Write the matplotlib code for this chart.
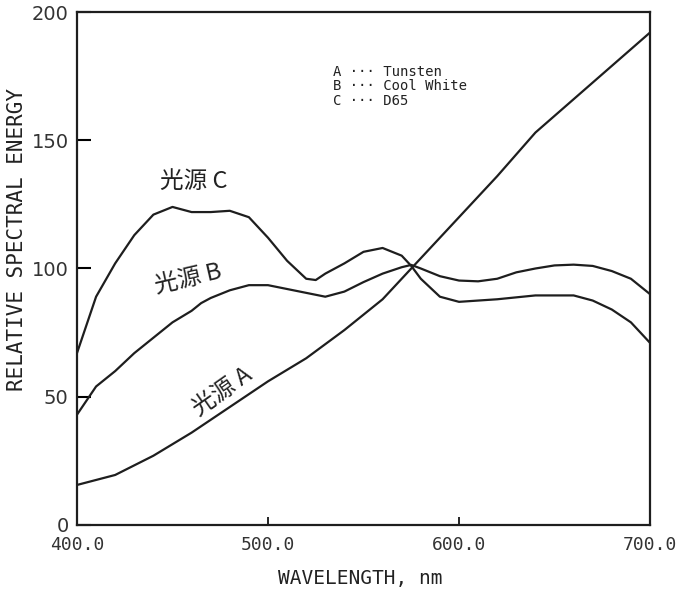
import matplotlib
matplotlib.use("Agg")
import matplotlib.pyplot as plt
import numpy as np

plt.rcParams['font.family'] = ['Noto Sans CJK SC', 'DejaVu Sans']

# Data
wl_A = [400, 420, 440, 460, 480, 500, 520, 540, 560, 580, 600, 620, 640, 660, 680, 700]
val_A = [15.6, 19.5, 27, 36, 46, 56, 65, 76, 88, 104, 120, 136, 153, 166, 179, 192]

wl_B = [400, 410, 420, 430, 440, 450, 460, 465, 470, 480, 490, 500, 510, 520, 530, 540,
        550, 560, 570, 575, 580, 590, 600, 610, 620, 630, 640, 650, 660, 670, 680, 690, 700]
val_B = [43, 54, 60, 67, 73, 79, 83.5, 86.5, 88.5, 91.5, 93.5, 93.5, 92, 90.5, 89, 91,
         94.7, 98, 100.5, 101.4, 100, 97, 95.3, 95, 96, 98.5, 100, 101.2, 101.5, 101, 99, 96, 90]

wl_C = [400, 410, 420, 430, 440, 450, 460, 470, 480, 490, 500, 510, 520, 525, 530, 540,
        550, 560, 570, 575, 580, 590, 600, 620, 640, 660, 670, 680, 690, 700]
val_C = [67, 89, 102, 113, 121, 124, 122, 122, 122.5, 120, 112, 103, 96, 95.5, 98, 102,
         106.5, 108, 105, 101, 96, 89, 87, 88, 89.5, 89.5, 87.5, 84, 79, 71]

x_ticks = [400, 500, 600, 700]
x_ticklabels = ["400.0", "500.0", "600.0", "700.0"]
y_ticks = [0, 50, 100, 150, 200]
y_ticklabels = ["0", "50", "100", "150", "200"]

legend_lines = ["A \u00b7\u00b7\u00b7 Tunsten", "B \u00b7\u00b7\u00b7 Cool White", "C \u00b7\u00b7\u00b7 D65"]

fig = plt.figure(figsize=(6.91, 5.89), dpi=100)
ax = fig.add_axes([0.1114, 0.1087, 0.8293, 0.8709])

lc = '#1e1e1e'
for wl, v in [(wl_A, val_A), (wl_B, val_B), (wl_C, val_C)]:
    ax.plot(wl, v, color=lc, lw=1.6)

ax.set_xlim(400, 700)
ax.set_ylim(0, 200)
for s in ax.spines.values():
    s.set_linewidth(1.6)
    s.set_color(lc)

ax.set_xticks(x_ticks)
ax.set_xticklabels(x_ticklabels, family='DejaVu Sans Mono', fontsize=13, color='#333')
ax.set_yticks(y_ticks)
ax.set_yticklabels(y_ticklabels, family='DejaVu Sans', fontsize=14, color='#333')
ax.tick_params(axis='x', direction='in', length=6, width=1.2, pad=8)
ax.tick_params(axis='y', direction='in', length=10, width=1.5, pad=6)

ax.set_xlabel("WAVELENGTH, nm", family='DejaVu Sans Mono', fontsize=14, color='#222')
ax.xaxis.set_label_coords(0.494, -0.086)
ax.set_ylabel("RELATIVE SPECTRAL ENERGY", family='DejaVu Sans Mono', fontsize=15, color='#222')
ax.yaxis.set_label_coords(-0.087, 0.556)

# curve labels
ax.text(461, 134, "光源 C", fontsize=17, ha='center', va='center', color='#222')
ax.text(458, 96, "光源 B", fontsize=17, ha='center', va='center', rotation=13, color='#222')
ax.text(476, 52, "光源 A", fontsize=17, ha='center', va='center', rotation=35, color='#222')

# legend text
for i, t in enumerate(legend_lines):
    ax.text(534, 176.5 - i * 5.5, t, family='DejaVu Sans Mono', fontsize=10,
            ha='left', va='center', color='#222')

fig.savefig("out.png", dpi=100)
